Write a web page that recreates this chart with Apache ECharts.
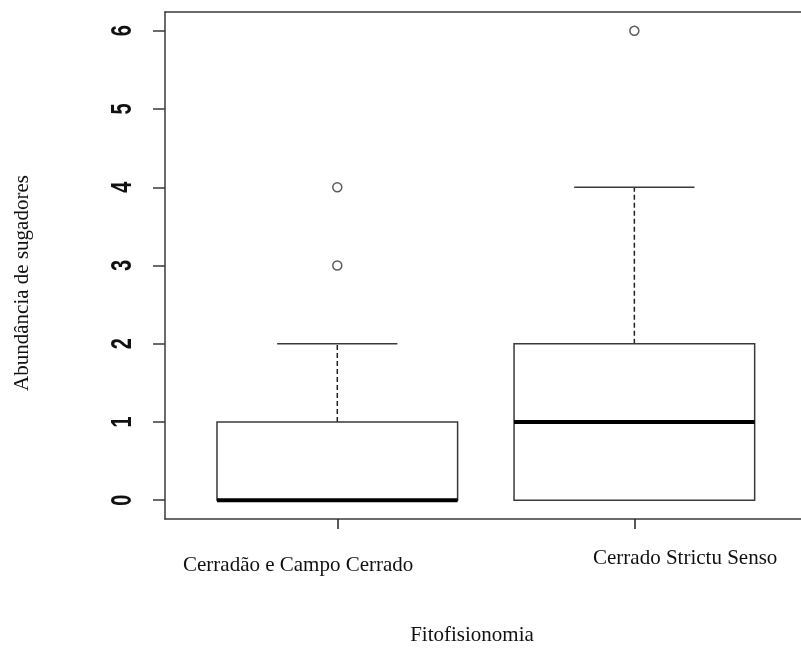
<!DOCTYPE html>
<html>
<head>
<meta charset="utf-8">
<script src="https://cdn.jsdelivr.net/npm/echarts@6/dist/echarts.min.js"></script>
<style>
  html, body { margin: 0; padding: 0; background: #fff; }
  #chart { width: 801px; height: 648px; }
</style>
</head>
<body>
<div id="chart"></div>
<script>
// Abundância de sugadores por fitofisionomia
const categories = ['Cerradão e Campo Cerrado', 'Cerrado Strictu Senso'];
const positions = [1, 2];
// five-number summaries: [lower whisker, Q1, median, Q3, upper whisker]
const lowerWhisker = [0, 0];
const q1 = [0, 0];
const median = [0, 1];
const q3 = [1, 2];
const upperWhisker = [2, 4];
// outliers: [group position, value]
const outliers = [[1, 3], [1, 4], [2, 6]];
const yTicks = [0, 1, 2, 3, 4, 5, 6];
const yTitle = 'Abundância de sugadores';
const xTitle = 'Fitofisionomia';

const X_MIN = 0.42, X_MAX = 2.561;
const boxData = positions.map((p, i) => [p, lowerWhisker[i], q1[i], median[i], q3[i], upperWhisker[i]]);

const LINE = '#3a3a3a';
const SERIF = '"Liberation Serif", "Times New Roman", serif';
const SANS = '"Liberation Sans", Arial, sans-serif';

function renderBox(params, api) {
  const x = api.value(0);
  const lo = api.coord([x, api.value(1)]);
  const b1 = api.coord([x, api.value(2)]);
  const md = api.coord([x, api.value(3)]);
  const b3 = api.coord([x, api.value(4)]);
  const hi = api.coord([x, api.value(5)]);
  const w = api.size([0.81, 0])[0];
  const cx = lo[0];
  const half = w / 2;
  const cap = w / 4;
  const lineStyle = { stroke: LINE, lineWidth: 1.5, fill: null };
  const dash = { stroke: '#222', lineWidth: 1.5, lineDash: [5, 3] };
  return {
    type: 'group',
    children: [
      { type: 'line', shape: { x1: cx, y1: b3[1], x2: cx, y2: hi[1] }, style: dash },
      { type: 'line', shape: { x1: cx, y1: b1[1], x2: cx, y2: lo[1] }, style: dash },
      { type: 'line', shape: { x1: cx - cap, y1: hi[1], x2: cx + cap, y2: hi[1] }, style: lineStyle },
      { type: 'line', shape: { x1: cx - cap, y1: lo[1], x2: cx + cap, y2: lo[1] }, style: lineStyle },
      { type: 'rect', shape: { x: cx - half, y: b3[1], width: w, height: b1[1] - b3[1] },
        style: { stroke: LINE, lineWidth: 1.5, fill: '#fff' } },
      { type: 'line', shape: { x1: cx - half, y1: md[1], x2: cx + half, y2: md[1] },
        style: { stroke: '#000', lineWidth: 4 } }
    ]
  };
}

// y tick labels: heavy digits written along the axis
function renderTickLabel(params, api) {
  const p = api.coord([X_MIN, api.value(0)]);
  return {
    type: 'text',
    x: p[0] - 42, y: p[1],
    rotation: Math.PI / 2,
    scaleY: 1.45,
    style: {
      text: String(api.value(0)),
      font: 'bold 20px ' + SANS,
      fill: '#111', align: 'center', verticalAlign: 'middle'
    }
  };
}

const chart = echarts.init(document.getElementById('chart'), null, { renderer: 'canvas' });

chart.setOption({
  animation: false,
  backgroundColor: '#fff',
  grid: { left: 165, top: 12, right: 0, height: 507, show: false },
  xAxis: [
    {
      type: 'value', min: X_MIN, max: X_MAX, position: 'bottom',
      splitLine: { show: false },
      axisLine: { show: true, onZero: false, lineStyle: { color: LINE, width: 1.5 } },
      axisTick: { show: true, length: 10, customValues: positions, lineStyle: { color: '#222', width: 1.5 } },
      axisLabel: { show: false }
    },
    {
      type: 'value', min: X_MIN, max: X_MAX, position: 'top',
      splitLine: { show: false },
      axisLine: { show: true, onZero: false, lineStyle: { color: LINE, width: 1.5 } },
      axisTick: { show: false },
      axisLabel: { show: false }
    }
  ],
  yAxis: {
    type: 'value', min: -0.24, max: 6.24,
    splitLine: { show: false },
    axisLine: { show: true, lineStyle: { color: LINE, width: 1.5 } },
    axisTick: { show: true, length: 12, customValues: yTicks, lineStyle: { color: LINE, width: 1.5 } },
    axisLabel: { show: false }
  },
  series: [
    {
      type: 'custom',
      renderItem: renderBox,
      data: boxData,
      encode: { x: 0, y: [1, 2, 3, 4, 5] },
      z: 2
    },
    {
      type: 'scatter',
      data: outliers,
      symbol: 'circle',
      symbolSize: 9,
      itemStyle: { color: '#fff', borderColor: '#333', borderWidth: 1.5 },
      z: 3
    },
    {
      type: 'custom',
      renderItem: renderTickLabel,
      data: yTicks.map(v => [v]),
      encode: { y: 0 },
      clip: false,
      silent: true
    }
  ],
  graphic: [
    { type: 'text', left: 183, top: 555,
      style: { text: categories[0], font: '21px ' + SERIF, fill: '#111' } },
    { type: 'text', left: 593, top: 548,
      style: { text: categories[1], font: '21px ' + SERIF, fill: '#111' } },
    { type: 'text', x: 472, y: 635,
      style: { text: xTitle, font: '21px ' + SERIF, fill: '#111', align: 'center', verticalAlign: 'middle' } },
    { type: 'text', x: 22, y: 283, rotation: Math.PI / 2,
      style: { text: yTitle, font: '21px ' + SERIF, fill: '#111', align: 'center', verticalAlign: 'middle' } }
  ]
});
</script>
</body>
</html>
